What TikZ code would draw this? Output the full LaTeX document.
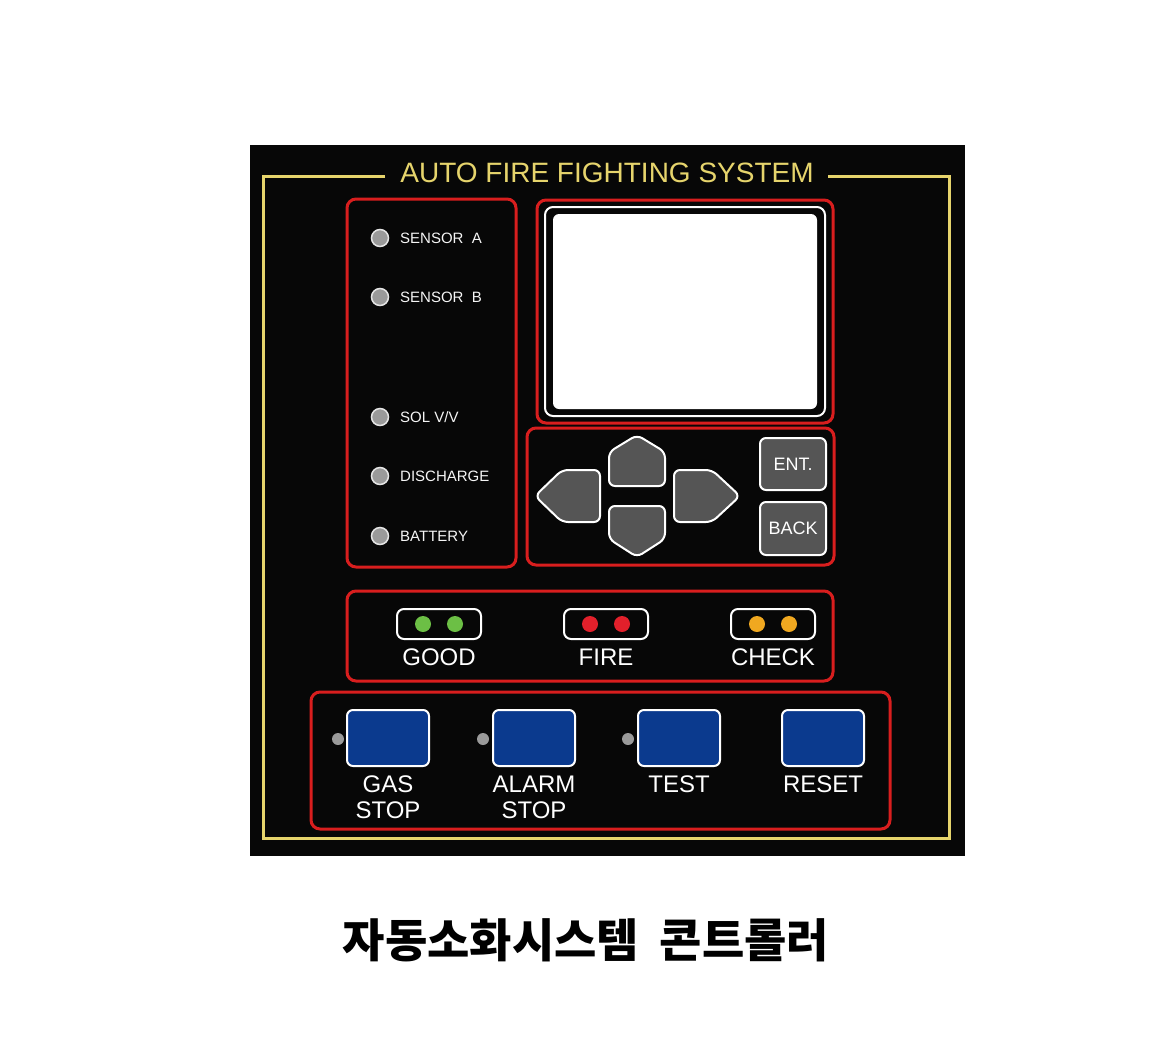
\documentclass[tikz,border=0pt]{standalone}
\usepackage{fontspec}
\setmainfont{Liberation Sans}
\newfontfamily\krfont{Noto Sans CJK KR}

\definecolor{panelblack}{HTML}{070707}
\definecolor{frameyellow}{HTML}{E6D46C}
\definecolor{boxred}{HTML}{D81E1E}
\definecolor{keygray}{HTML}{555555}
\definecolor{ledgray}{HTML}{9A9A9A}
\definecolor{btnblue}{HTML}{0B3A8E}
\definecolor{ledgreen}{HTML}{6CBF45}
\definecolor{ledred}{HTML}{E2202B}
\definecolor{ledorange}{HTML}{F0A820}

\tikzset{
  redbox/.style={draw=boxred, line width=3pt, rounded corners=9pt},
  keybtn/.style={draw=white, fill=keygray, line width=2pt, rounded corners=6pt},
  bluebtn/.style={draw=white, fill=btnblue, line width=2pt, rounded corners=6pt},
  pill/.style={draw=white, line width=2pt, rounded corners=7pt},
  led/.style={circle, draw=white!80!gray, fill=ledgray, line width=1.5pt, minimum size=17pt, inner sep=0pt},
  dotled/.style={circle, fill=#1, minimum size=16pt, inner sep=0pt},
  ledlabel/.style={anchor=west, text=white!92!gray, font=\fontsize{15}{15}\selectfont, inner sep=0pt},
  keylabel/.style={text=white, font=\fontsize{18}{18}\selectfont, inner sep=0pt},
  biglabel/.style={text=white, font=\fontsize{24}{26}\selectfont, inner sep=0pt, align=center}
}

\begin{document}
\begin{tikzpicture}[x=1pt,y=-1pt]
\useasboundingbox[fill=white] (0,0) rectangle (1161,1037);
\fill[panelblack] (250,145) rectangle (965,856);

% frame and title
\draw[frameyellow, line width=3pt] (385,176) -- (263,176) -- (263,838) -- (949,838) -- (949,176) -- (828,176);
\node[text=frameyellow, font=\fontsize{28}{28}\selectfont, inner sep=0pt] (title) at (607,173) {AUTO FIRE FIGHTING SYSTEM};

% sensor column
\draw[redbox] (347,199) rectangle (516,567);
\foreach \y/\txt/\nm in {238/{SENSOR\ \ A}/sa, 297/{SENSOR\ \ B}/sb, 417/{SOL V/V}/sol, 476/DISCHARGE/dis, 536/BATTERY/bat}
{
  \node[led] (led\nm) at (380,\y) {};
  \node[ledlabel] (lbl\nm) at (400,\y) {\txt};
}

% display
\draw[redbox] (537,200) rectangle (833,423);
\draw[white, line width=2pt, rounded corners=8pt] (545,207) rectangle (825,416);
\fill[white, rounded corners=6pt] (553,214) rectangle (817,409);

% keypad
\draw[redbox] (527,428) rectangle (834,565);
\draw[keybtn] (609,486) -- (609,452) -- (637,435) -- (665,452) -- (665,486) -- cycle;
\draw[keybtn] (609,506) -- (609,539) -- (637,557) -- (665,539) -- (665,506) -- cycle;
\draw[keybtn] (600,470) -- (562,470) -- (535,496) -- (562,522) -- (600,522) -- cycle;
\draw[keybtn] (674,470) -- (712,470) -- (740,496) -- (712,522) -- (674,522) -- cycle;
\draw[keybtn] (760,438) rectangle (826,490);
\node[keylabel] (ent) at (793,464) {ENT.};
\draw[keybtn] (760,502) rectangle (826,555);
\node[keylabel] (back) at (793,528) {BACK};

% status lamps
\draw[redbox] (347,591) rectangle (833,681);
\foreach \cx/\col/\txt/\nm in {439/ledgreen/GOOD/good, 606/ledred/FIRE/fire, 773/ledorange/CHECK/check}
{
  \draw[pill] (\cx-42,609) rectangle (\cx+42,639);
  \node[dotled=\col] (\nm a) at (\cx-16,624) {};
  \node[dotled=\col] (\nm b) at (\cx+16,624) {};
  \node[biglabel] (lbl\nm) at (\cx,657) {\txt};
}

% push buttons
\draw[redbox] (311,692) rectangle (890,829);
\foreach \cx/\txt/\nm in {388/{GAS\\STOP}/gas, 534/{ALARM\\STOP}/alarm, 679/TEST/test, 823/RESET/reset}
{
  \draw[bluebtn] (\cx-41,710) rectangle (\cx+41,766);
  \node[biglabel, anchor=north] (lbl\nm) at (\cx,776) {\txt};
}
\foreach \cx/\nm in {338/gas, 483/alarm, 628/test}
  \node[circle, fill=ledgray, minimum size=12pt, inner sep=0pt] (pilot\nm) at (\cx,739) {};

% caption
\node[font=\krfont\bfseries\fontsize{46}{46}\selectfont, inner sep=0pt] (caption) at (586,940) {자동소화시스템\hspace{0.45em}콘트롤러};
\end{tikzpicture}
\end{document}
